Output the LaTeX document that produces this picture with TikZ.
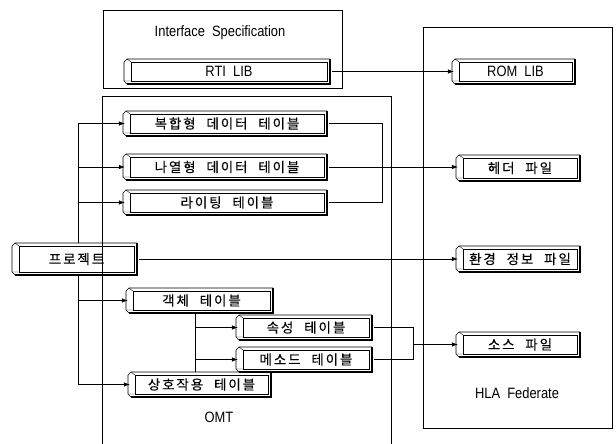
\documentclass[tikz,border=0pt]{standalone}
\usepackage{fontspec}
\setmainfont[FakeStretch=0.86]{Liberation Sans}
\newfontfamily\kr[LetterSpace=14,WordSpace=2.2,FakeBold=0.3]{Noto Sans CJK KR}
\usetikzlibrary{arrows.meta}
\tikzset{
  x=1pt, y=-1pt,
  lbl/.style={inner sep=0pt, font={\fontsize{15}{17}\selectfont}},
  krl/.style={inner sep=0pt, font={\kr\fontsize{13.5}{15}\selectfont}},
  wire/.style={line width=0.6pt},
  arr/.style={wire,-{Latex[length=6pt,width=4.5pt]}},
  frame/.style={line width=0.8pt},
  thinedge/.style={line width=0.6pt},
  shadowedge/.style={line width=1.3pt},
}
% name, x0, y0, x1, y1, style, text
\newcommand\tbox[7]{%
  \node[#6, rectangle, minimum width={(#4-#2)*1pt}, minimum height={(#5-#3)*1pt}]
    (#1) at ({(#2+#4)/2+2},{(#3+#5)/2}) {#7};
  \draw[thinedge] (#2,#3+3) -- (#2+3,#3) -- (#4,#3);
  \draw[thinedge] (#2,#3+3) -- (#2,#5-3) -- (#2+3,#5);
  \draw[shadowedge] (#2+3,#5) -- (#4,#5) -- (#4,#3);
  \draw[thinedge] (#2+7,#3+3) rectangle (#4-2.5,#5-3);
  \draw[line width=.4pt] (#2+3,#3) -- (#2+7,#3+3) (#2,#5-3) -- (#2+7,#5-3);
}
\begin{document}
\begin{tikzpicture}
\useasboundingbox (0,0) rectangle (616,444);
% containers
\draw[frame] (103,10) rectangle (342,88);
\node[lbl] (ifs) at (220,33) {Interface\ \ Specification};
\draw[frame] (102,446) -- (102,96) -- (391,96) -- (391,446);
\node[lbl] (omt) at (219,417) {OMT};
\draw[frame] (423,27) rectangle (612,428);
\node[lbl] (hla) at (517,393) {HLA\ \ Federate};
% boxes
\tbox{rti}{124}{59}{330}{84}{lbl}{RTI\ \ LIB}
\tbox{rom}{452}{59}{575}{84}{lbl}{ROM\ \ LIB}
\tbox{t1}{123}{111}{327}{136}{krl}{복합형 데이터 테이블}
\tbox{t2}{123}{154}{327}{180}{krl}{나열형 데이터 테이블}
\tbox{t3}{123}{190}{327}{215}{krl}{라이팅 테이블}
\tbox{pj}{12}{243}{137}{275}{krl}{프로젝트}
\tbox{hdr}{456}{155}{580}{181}{krl}{헤더 파일}
\tbox{env}{456}{246}{580}{272}{krl}{환경 정보 파일}
\tbox{ob}{126}{288}{273}{313}{krl}{객체 테이블}
\tbox{at}{236}{315}{372}{340}{krl}{속성 테이블}
\tbox{mt}{236}{347}{372}{372}{krl}{메소드 테이블}
\tbox{ia}{128}{372}{271}{397}{krl}{상호작용 테이블}
\tbox{src}{456}{332}{580}{357}{krl}{소스 파일}
% connectors
\coordinate (bus) at (78,0);
\coordinate (jr) at (382,0);
\coordinate (obx) at (195,0);
\coordinate (jr2) at (413,0);
\coordinate (jm) at (413,344.5);
\draw[arr] (rti.east) -- (rom.west |- rti.east);
\draw[arr] (pj.north -| bus) |- (t1.west);
\draw[arr] (pj.north -| bus) |- (t2.west);
\draw[arr] (pj.north -| bus) |- (t3.west);
\draw[arr] (pj.south -| bus) |- (ob.west);
\draw[arr] (pj.south -| bus) |- (ia.west);
\draw[arr] (pj.east) -- (env.west |- pj.east);
\draw[arr] (t2.east) -- (hdr.west |- t2.east);
\draw[wire] (t1.east) -- (t1.east -| jr) -- (t3.east -| jr) -- (t3.east);
\draw[wire] (ob.south -| obx) -- (ia.north -| obx);
\draw[arr] (obx |- at.west) -- (at.west);
\draw[arr] (obx |- mt.west) -- (mt.west);
\draw[wire] (at.east) -- (at.east -| jr2) -- (mt.east -| jr2) -- (mt.east);
\draw[arr] (jm) -- (src.west |- jm);
\end{tikzpicture}
\end{document}
